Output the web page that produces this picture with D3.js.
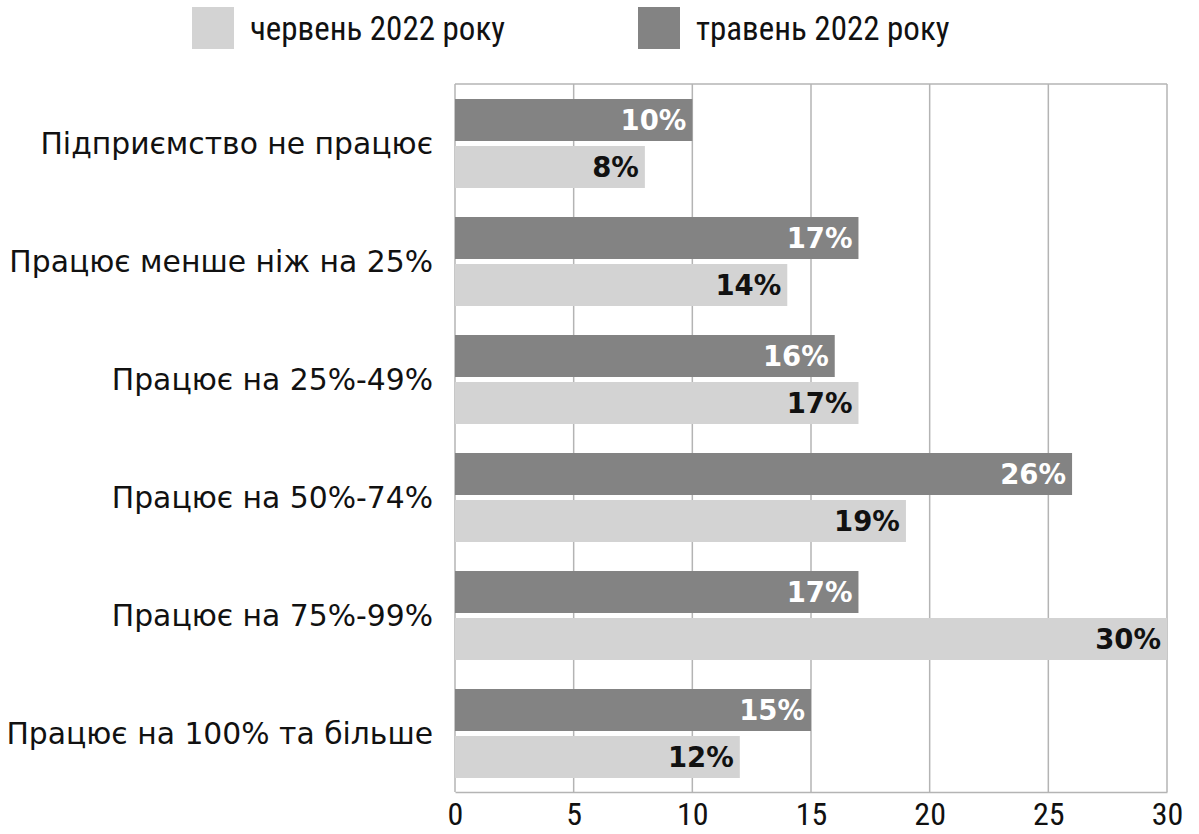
<!DOCTYPE html>
<html>
<head>
<meta charset="utf-8">
<script src="https://cdn.jsdelivr.net/npm/d3@7"></script>
<style>
  html, body { margin: 0; padding: 0; background: #fff; }
  svg { display: block; }
</style>
</head>
<body>
<script>
// Enterprise operating levels, May vs June 2022 (% of respondents)
const categories = [
  "Підприємство не працює",
  "Працює менше ніж на 25%",
  "Працює на 25%-49%",
  "Працює на 50%-74%",
  "Працює на 75%-99%",
  "Працює на 100% та більше"
];
const mayValues = [10, 17, 16, 26, 17, 15];
const juneValues = [8, 14, 17, 19, 30, 12];
const seriesKeys = ["may", "june"];
const seriesNames = { may: "травень 2022 року", june: "червень 2022 року" };
const legendOrder = ["june", "may"];
const xTicks = [0, 5, 10, 15, 20, 25, 30];

const W = 1199, H = 834;
const margin = { top: 84, right: 32, bottom: 42, left: 455 };
const colors = { may: "#838383", june: "#d3d3d3" };
const labelColors = { may: "#ffffff", june: "#111111" };

const narrowFont = "'Liberation Sans Narrow', 'Roboto Condensed', 'DejaVu Sans Condensed', sans-serif";
const mainFont = "'DejaVu Sans', 'Open Sans', sans-serif";

const rows = categories.map((c, i) => ({ cat: c, may: mayValues[i], june: juneValues[i] }));

const svg = d3.select("body").append("svg").attr("width", W).attr("height", H);

const x = d3.scaleLinear().domain([0, 30]).range([margin.left, W - margin.right]);
const y = d3.scaleBand().domain(categories).range([margin.top, H - margin.bottom]).padding(0);
const inner = d3.scaleBand().domain(seriesKeys).range([15, y.bandwidth() - 14]).paddingInner(0.1064);

const gridColor = "#b4b4b4";

// vertical grid lines
svg.append("g").selectAll("line").data(xTicks).join("line")
  .attr("x1", d => x(d)).attr("x2", d => x(d))
  .attr("y1", margin.top).attr("y2", H - margin.bottom)
  .attr("stroke", gridColor).attr("stroke-width", 1.5);

// top border
svg.append("line")
  .attr("x1", x(0)).attr("x2", x(30))
  .attr("y1", margin.top).attr("y2", margin.top)
  .attr("stroke", gridColor).attr("stroke-width", 1.5);

// bars
const groups = svg.append("g").selectAll("g").data(rows).join("g")
  .attr("transform", d => `translate(0,${y(d.cat)})`);

groups.selectAll("rect").data(d => seriesKeys.map(k => ({ key: k, value: d[k] }))).join("rect")
  .attr("x", x(0))
  .attr("y", d => inner(d.key))
  .attr("width", d => x(d.value) - x(0))
  .attr("height", inner.bandwidth())
  .attr("fill", d => colors[d.key]);

groups.selectAll("text.val").data(d => seriesKeys.map(k => ({ key: k, value: d[k] }))).join("text")
  .attr("class", "val")
  .attr("x", d => x(d.value) - 6)
  .attr("y", d => inner(d.key) + inner.bandwidth() / 2)
  .attr("dy", "0.36em")
  .attr("text-anchor", "end")
  .attr("font-family", mainFont)
  .attr("font-weight", 700)
  .attr("font-size", 27.5)
  .attr("fill", d => labelColors[d.key])
  .text(d => d.value + "%");

// bottom axis
const xAxis = d3.axisBottom(x).tickValues(xTicks).tickSize(0).tickPadding(10);
const ax = svg.append("g").attr("transform", `translate(0,${H - margin.bottom})`).call(xAxis);
ax.select(".domain").attr("stroke", gridColor).attr("stroke-width", 1.5);
ax.selectAll("text")
  .attr("font-family", narrowFont)
  .attr("font-size", 32)
  .attr("fill", "#111");

// category labels
svg.append("g").selectAll("text").data(categories).join("text")
  .attr("x", margin.left - 22)
  .attr("y", d => y(d) + y.bandwidth() / 2)
  .attr("dy", "0.36em")
  .attr("text-anchor", "end")
  .attr("font-family", mainFont)
  .attr("font-size", 29.8)
  .attr("fill", "#111")
  .text(d => d);

// legend
const legendX = [192, 638];
const lg = svg.append("g").selectAll("g").data(legendOrder).join("g")
  .attr("transform", (d, i) => `translate(${legendX[i]},7)`);
lg.append("rect").attr("width", 42).attr("height", 42).attr("fill", d => colors[d]);
lg.append("text")
  .attr("x", 58).attr("y", 21).attr("dy", "0.36em")
  .attr("font-family", narrowFont)
  .attr("font-size", 33)
  .attr("fill", "#111")
  .text(d => seriesNames[d]);
</script>
</body>
</html>
